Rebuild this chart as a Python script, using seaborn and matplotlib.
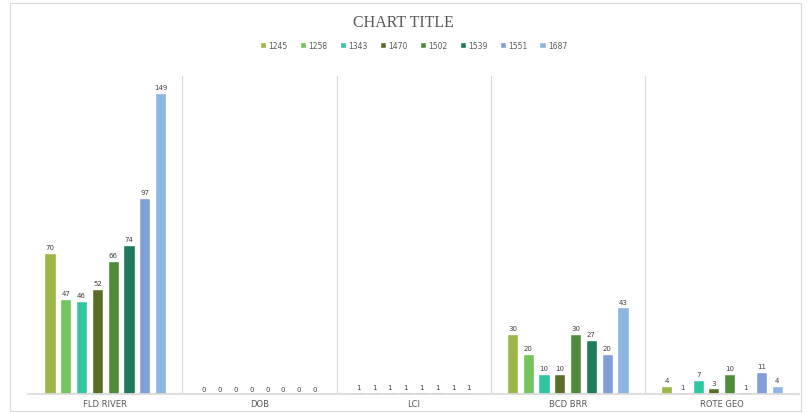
import numpy as np
import pandas as pd
import matplotlib
matplotlib.use("Agg")
import matplotlib.pyplot as plt
import seaborn as sns

categories = ["FLD RIVER", "DOB", "LCI", "BCD BRR", "ROTE GEO"]
series = ["1245", "1258", "1343", "1470", "1502", "1539", "1551", "1687"]
values = {
    "1245": [70, 0, 1, 30, 4],
    "1258": [47, 0, 1, 20, 1],
    "1343": [46, 0, 1, 10, 7],
    "1470": [52, 0, 1, 10, 3],
    "1502": [66, 0, 1, 30, 10],
    "1539": [74, 0, 1, 27, 1],
    "1551": [97, 0, 1, 20, 11],
    "1687": [149, 0, 1, 43, 4],
}
colors = ["#9db648", "#74c35c", "#2fc7a2", "#5b6e27", "#4f8c39", "#1f7b5c", "#7f9fd6", "#8db6e3"]

rows = []
for s in series:
    for c, v in zip(categories, values[s]):
        rows.append({"category": c, "series": s, "value": v})
df = pd.DataFrame(rows)

sns.set_theme(style="white")
fig = plt.figure(figsize=(8.07, 4.14), dpi=100)
ax = fig.add_axes([0.035, 0.045, 0.955, 0.77])
sns.barplot(data=df, x="category", y="value", hue="series", palette=colors,
            order=categories, hue_order=series, ax=ax, width=0.82, gap=0.3,
            legend=True, saturation=1)

for cont in ax.containers:
    ax.bar_label(cont, fmt="%g", fontsize=5, color="#404040", padding=2)

ax.set_ylim(0, 157.5)
ax.set_xlim(-0.5, len(categories) - 0.5)
ax.set_xlabel("")
ax.set_ylabel("")
ax.set_yticks([])
ax.tick_params(axis="x", labelsize=6, colors="#595959", length=0, pad=3)
for sp in ["top", "right", "left"]:
    ax.spines[sp].set_visible(False)
ax.spines["bottom"].set_color("#d9d9d9")
for i in range(1, len(categories)):
    ax.axvline(i - 0.5, color="#d9d9d9", lw=0.8, zorder=0)

leg = ax.legend(loc="lower center", bbox_to_anchor=(0.5, 1.06), ncol=8, frameon=False,
                fontsize=5.5, handlelength=0.8, handleheight=0.8, columnspacing=1.6,
                handletextpad=0.3, labelcolor="#595959")

fig.text(0.5, 0.945, "CHART TITLE", ha="center", va="center", fontsize=11.5,
         family="Liberation Serif", color="#595959")

fig.patches.append(plt.Rectangle((0.012, 0.005), 0.98, 0.985, transform=fig.transFigure,
                                 fill=False, edgecolor="#d9d9d9", lw=0.8))
fig.savefig("out.png", dpi=100)
